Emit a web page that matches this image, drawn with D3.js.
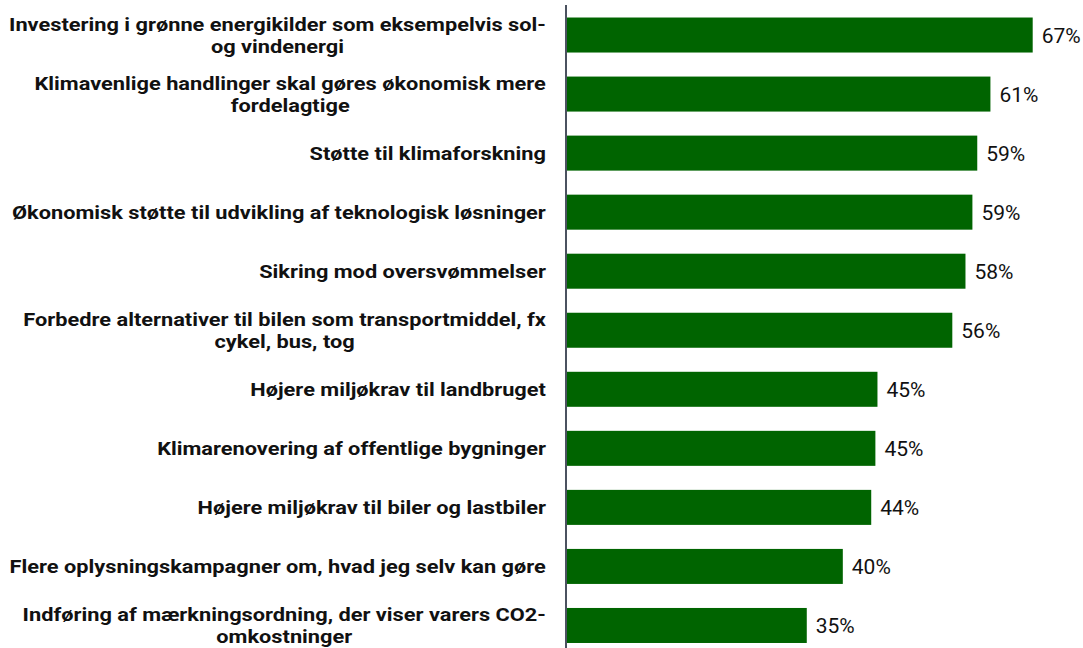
<!DOCTYPE html>
<html>
<head>
<meta charset="utf-8">
<script src="https://cdn.jsdelivr.net/npm/d3@7"></script>
<style>
  html, body { margin: 0; padding: 0; background: #fff; }
  svg { display: block; }
</style>
</head>
<body>
<svg id="chart" width="1083" height="648"></svg>
<script>
const categories = [
  "Investering i grønne energikilder som eksempelvis sol-og vindenergi",
  "Klimavenlige handlinger skal gøres økonomisk mere fordelagtige",
  "Støtte til klimaforskning",
  "Økonomisk støtte til udvikling af teknologisk løsninger",
  "Sikring mod oversvømmelser",
  "Forbedre alternativer til bilen som transportmiddel, fx cykel, bus, tog",
  "Højere miljøkrav til landbruget",
  "Klimarenovering af offentlige bygninger",
  "Højere miljøkrav til biler og lastbiler",
  "Flere oplysningskampagner om, hvad jeg selv kan gøre",
  "Indføring af mærkningsordning, der viser varers CO2-omkostninger"
];
const values = [67.2, 61.1, 59.2, 58.5, 57.5, 55.6, 44.8, 44.5, 43.9, 39.8, 34.6];

const svg = d3.select("#chart");
const axisX = 566;
const labelRight = 546;
const maxLabelWidth = 545;

const x = d3.scaleLinear().domain([0, 100]).range([567, 567 + 693]);
const y = d3.scaleBand()
  .domain(categories)
  .range([5.5, 655])
  .paddingInner(0.407)
  .paddingOuter(0.2035);

// bars
svg.append("g").selectAll("rect")
  .data(categories)
  .join("rect")
  .attr("x", x(0))
  .attr("y", d => y(d))
  .attr("width", (d, i) => x(values[i]) - x(0))
  .attr("height", y.bandwidth())
  .attr("fill", "#006400");

// axis line
svg.append("line")
  .attr("x1", axisX).attr("x2", axisX)
  .attr("y1", 5).attr("y2", 660)
  .attr("stroke", "#4b5260")
  .attr("stroke-width", 2);

// value labels
svg.append("g").selectAll("text")
  .data(categories)
  .join("text")
  .attr("x", (d, i) => x(values[i]) + 9)
  .attr("y", d => y(d) + y.bandwidth() / 2)
  .attr("dy", "0.36em")
  .attr("font-family", "Roboto, sans-serif")
  .attr("font-size", 21)
  .attr("fill", "#111")
  .text((d, i) => Math.round(values[i]) + "%");

// category labels with wrapping (break at spaces and after hyphens)
function tokenize(s) {
  const toks = [];
  const re = /([^\s-]+-?|-)(\s*)/g;
  let m;
  while ((m = re.exec(s)) !== null) {
    if (m[0] === "") break;
    toks.push({ w: m[1], space: m[2].length > 0 });
  }
  return toks;
}
const labelG = svg.append("g");
const lineH = 22;
const sx = 1.21;
categories.forEach(cat => {
  const t = labelG.append("text")
    .attr("font-family", "Roboto, sans-serif")
    .attr("font-weight", "bold")
    .attr("font-size", 18)
    .attr("fill", "#111")
    .attr("text-anchor", "middle");
  const toks = tokenize(cat);
  const lines = [];
  let cur = "";
  const probe = t.append("tspan");
  const w = s => { probe.text(s); return probe.node().getComputedTextLength() * sx; };
  toks.forEach((tk, i) => {
    const prevSpace = i > 0 && toks[i - 1].space;
    const cand = cur === "" ? tk.w : cur + (prevSpace ? " " : "") + tk.w;
    if (cur !== "" && w(cand) > maxLabelWidth) {
      lines.push(cur);
      cur = tk.w;
    } else {
      cur = cand;
    }
  });
  if (cur) lines.push(cur);
  let maxW = 0;
  lines.forEach(l => { maxW = Math.max(maxW, w(l)); });
  probe.remove();
  const cx = labelRight - maxW / 2;
  const cy = y(cat) + y.bandwidth() / 2 + (lines.length > 1 ? 0.5 : 0);
  const y0 = cy - (lines.length - 1) * lineH / 2;
  t.attr("transform", `translate(${cx},0) scale(${sx},1)`);
  lines.forEach((l, j) => {
    t.append("tspan")
      .attr("x", 0)
      .attr("y", y0 + j * lineH)
      .attr("dy", "0.36em")
      .text(l);
  });
});
</script>
</body>
</html>
